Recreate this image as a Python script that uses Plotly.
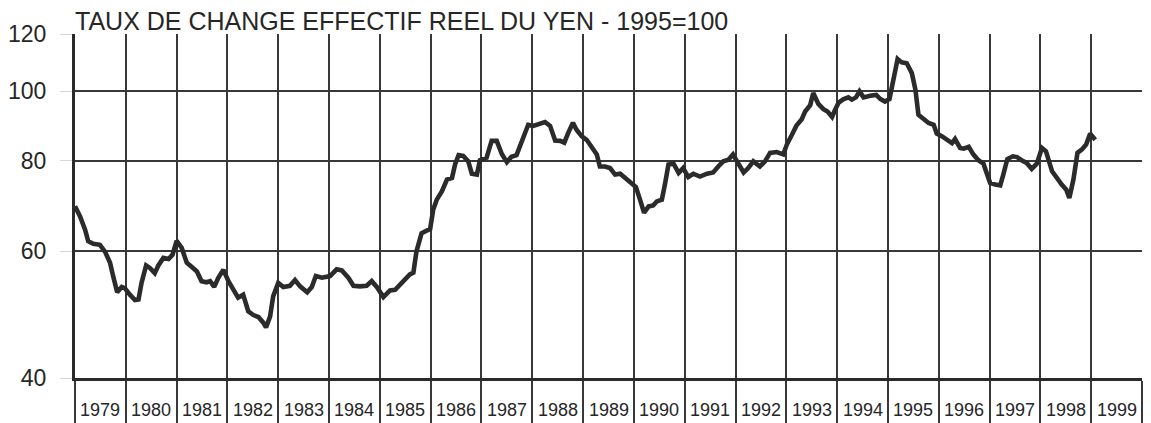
import plotly.graph_objects as go

# Real effective exchange rate of the yen, 1995 = 100 (decimal year, index level)
years = [
    1979.00, 1979.10, 1979.20, 1979.26, 1979.36, 1979.49, 1979.59, 1979.69, 1979.75, 1979.83,
    1979.92, 1979.98, 1980.08, 1980.18, 1980.25, 1980.31, 1980.40, 1980.48, 1980.57, 1980.64,
    1980.74, 1980.84, 1980.92, 1981.00, 1981.10, 1981.20, 1981.30, 1981.40, 1981.49, 1981.59,
    1981.66, 1981.74, 1981.82, 1981.92, 1982.02, 1982.12, 1982.21, 1982.31, 1982.41, 1982.51,
    1982.61, 1982.71, 1982.76, 1982.84, 1982.90, 1983.00, 1983.10, 1983.23, 1983.33, 1983.43,
    1983.57, 1983.66, 1983.74, 1983.86, 1984.02, 1984.15, 1984.25, 1984.38, 1984.48, 1984.61,
    1984.74, 1984.84, 1984.94, 1985.07, 1985.20, 1985.30, 1985.40, 1985.50, 1985.59, 1985.66,
    1985.72, 1985.82, 1985.92, 1985.99, 1986.05, 1986.12, 1986.22, 1986.32, 1986.42, 1986.48,
    1986.55, 1986.64, 1986.74, 1986.81, 1986.91, 1986.97, 1987.10, 1987.20, 1987.30, 1987.40,
    1987.50, 1987.59, 1987.69, 1987.76, 1987.84, 1987.92, 1988.02, 1988.12, 1988.25, 1988.35,
    1988.45, 1988.55, 1988.63, 1988.71, 1988.80, 1988.87, 1988.97, 1989.07, 1989.17, 1989.27,
    1989.33, 1989.43, 1989.53, 1989.63, 1989.73, 1989.83, 1989.93, 1990.04, 1990.12, 1990.20,
    1990.29, 1990.38, 1990.45, 1990.55, 1990.61, 1990.68, 1990.78, 1990.88, 1990.97, 1991.07,
    1991.17, 1991.30, 1991.44, 1991.56, 1991.66, 1991.76, 1991.86, 1991.95, 1992.03, 1992.16,
    1992.25, 1992.35, 1992.48, 1992.58, 1992.68, 1992.81, 1992.94, 1993.01, 1993.11, 1993.20,
    1993.30, 1993.37, 1993.47, 1993.53, 1993.63, 1993.73, 1993.81, 1993.90, 1993.96, 1994.03,
    1994.12, 1994.22, 1994.29, 1994.37, 1994.44, 1994.52, 1994.65, 1994.77, 1994.85, 1994.94,
    1995.03, 1995.11, 1995.19, 1995.27, 1995.37, 1995.47, 1995.54, 1995.60, 1995.70, 1995.80,
    1995.90, 1995.96, 1996.06, 1996.16, 1996.26, 1996.32, 1996.42, 1996.49, 1996.59, 1996.68,
    1996.78, 1996.88, 1997.01, 1997.11, 1997.21, 1997.27, 1997.35, 1997.46, 1997.54, 1997.63,
    1997.73, 1997.83, 1997.93, 1998.03, 1998.11, 1998.23, 1998.32, 1998.42, 1998.51, 1998.57,
    1998.65, 1998.73, 1998.82, 1998.90, 1998.98, 1999.08,
]
index_values = [
    69.2, 67.0, 64.2, 61.9, 61.4, 61.2, 59.9, 57.8, 55.4, 52.6,
    53.5, 53.3, 52.2, 51.3, 51.4, 54.2, 57.3, 56.8, 55.9, 57.3,
    58.7, 58.5, 59.3, 62.0, 60.6, 57.8, 57.0, 56.2, 54.5, 54.3,
    54.5, 53.5, 55.1, 56.5, 54.5, 53.0, 51.7, 52.2, 49.5, 48.9,
    48.6, 47.7, 47.0, 48.7, 51.9, 54.2, 53.5, 53.7, 54.7, 53.6,
    52.6, 53.5, 55.4, 55.1, 55.4, 56.6, 56.4, 55.1, 53.7, 53.6,
    53.7, 54.5, 53.5, 51.8, 52.9, 53.0, 53.9, 54.9, 55.7, 56.0,
    59.9, 63.5, 63.9, 64.4, 68.5, 70.7, 72.6, 75.4, 75.8, 79.1,
    81.5, 81.3, 79.9, 76.8, 76.6, 80.2, 80.8, 85.3, 85.3, 81.8,
    79.7, 81.1, 81.5, 84.0, 87.2, 89.8, 89.5, 90.1, 90.6, 89.5,
    85.4, 85.3, 84.8, 87.6, 90.4, 88.4, 86.6, 85.6, 83.8, 81.7,
    78.6, 78.6, 78.2, 76.6, 76.8, 75.8, 74.8, 73.6, 70.7, 67.8,
    69.2, 69.4, 70.3, 70.7, 74.2, 79.1, 79.3, 77.0, 78.2, 76.0,
    76.8, 76.1, 76.8, 77.1, 78.6, 79.9, 80.3, 81.7, 79.9, 77.1,
    78.2, 79.9, 78.6, 79.9, 82.1, 82.3, 81.7, 84.3, 87.0, 89.6,
    91.3, 93.7, 95.6, 99.4, 96.0, 94.4, 93.7, 92.1, 94.2, 96.4,
    97.4, 98.0, 97.3, 98.0, 99.9, 98.0, 98.5, 98.8, 97.5, 96.7,
    97.5, 103.7, 110.8, 109.6, 109.3, 105.9, 100.5, 92.7, 91.3, 90.3,
    89.8, 87.3, 86.6, 85.6, 84.7, 85.8, 83.4, 83.2, 83.7, 81.7,
    80.2, 79.3, 74.6, 74.2, 74.0, 76.6, 80.5, 81.2, 81.0, 80.2,
    79.5, 78.0, 79.3, 83.4, 82.5, 77.4, 75.8, 74.2, 73.0, 71.1,
    75.4, 82.1, 83.0, 84.3, 87.3, 85.6,
]

year_bounds = list(range(1979, 2001))
year_labels = [str(y) for y in range(1979, 2000)]
y_ticks = [40, 60, 80, 100, 120]

title_text = "TAUX DE CHANGE EFFECTIF REEL DU YEN - 1995=100"

FONT = "Liberation Sans, Arial, sans-serif"
INK = "#262626"
GRID = "#383838"

fig = go.Figure()
fig.add_trace(go.Scatter(
    x=years, y=index_values, mode="lines",
    line=dict(color="#2b2b2b", width=4.6, shape="linear"),
    hoverinfo="skip", showlegend=False,
))

fig.update_layout(
    width=1151, height=423,
    margin=dict(l=75, r=9, t=34, b=45, autoexpand=False),
    paper_bgcolor="white", plot_bgcolor="white",
    font=dict(family=FONT, color=INK),
    showlegend=False,
)

fig.update_xaxes(
    range=[1979, 2000], automargin=False,
    tickmode="array", tickvals=year_bounds,
    showticklabels=False,
    ticks="outside", ticklen=42, tickwidth=1.7, tickcolor=GRID,
    showgrid=True, gridcolor=GRID, gridwidth=1.7,
    showline=True, linecolor="#2a2a2a", linewidth=3,
    zeroline=False,
)

fig.update_yaxes(
    type="log", automargin=False,
    range=[1.60206, 2.07918],
    tickmode="array", tickvals=y_ticks, ticktext=[str(v) for v in y_ticks],
    ticks="outside", ticklen=12, tickwidth=1, tickcolor="#d8d8d8",
    ticklabelstandoff=9,
    tickfont=dict(size=23, color=INK, family=FONT),
    showgrid=True, gridcolor=GRID, gridwidth=1.5,
    showline=True, linecolor="#2a2a2a", linewidth=3,
    zeroline=False,
)

# Year names sit between the year boundary ticks
for lbl in year_labels:
    fig.add_annotation(
        x=int(lbl) + 0.5, xref="x", y=-0.093, yref="paper",
        text=lbl, showarrow=False, yanchor="middle", xanchor="center",
        font=dict(size=18, color=INK, family=FONT),
    )

fig.add_annotation(
    x=0, xref="paper", y=1, yref="paper", xanchor="left", yanchor="bottom",
    text=title_text, showarrow=False, xshift=-2, yshift=-3,
    font=dict(size=25, color=INK, family=FONT),
)

fig.write_html("out.html")
